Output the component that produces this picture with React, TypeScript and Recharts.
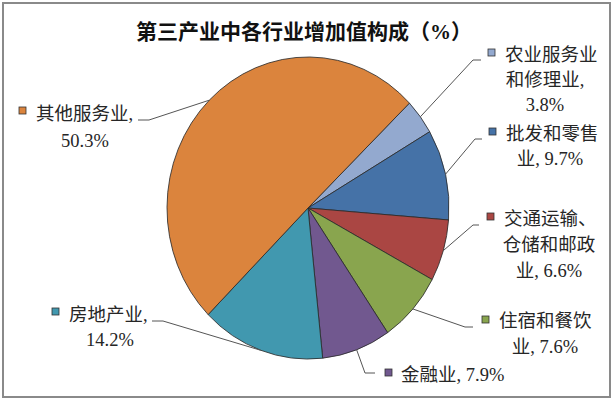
import React from 'react';
import { PieChart, Pie, Cell } from 'recharts';

// ---- data ----
const categories = ['农业服务业和修理业', '批发和零售业', '交通运输、仓储和邮政业', '住宿和餐饮业', '金融业', '房地产业', '其他服务业'];
const shares = [3.8, 9.7, 6.6, 7.6, 7.9, 14.2, 50.3];
const nameLines = [
  ['农业服务业', '和修理业'],
  ['批发和零售', '业'],
  ['交通运输、', '仓储和邮政', '业'],
  ['住宿和餐饮', '业'],
  ['金融业'],
  ['房地产业'],
  ['其他服务业'],
];
const valueOnOwnLine = [true, false, false, false, false, true, true];
const colors = ['#93A9CF', '#4572A7', '#AA4643', '#89A54E', '#71588F', '#4198AF', '#DB843D'];
const title = '第三产业中各行业增加值构成（%）';

const data = categories.map((name, i) => ({ name, value: shares[i] }));

// ---- layout ----
const W = 614;
const H = 402;
const CX = 308;
const CY = 208;
const R = 141;
const YSCALE = 1.071;
const FONT = "'Liberation Serif','Noto Sans CJK SC',serif";

type LabelLayout = { sq: [number, number]; x1: number; cx: number; ys: number[]; lead: [number, number][] };
const layouts: LabelLayout[] = [
  { sq: [488, 49], x1: 505, cx: 545, ys: [55, 80, 105], lead: [[481, 60], [473, 60]] },
  { sq: [489, 128], x1: 506, cx: 550, ys: [134, 159], lead: [[482, 139], [475, 139]] },
  { sq: [487, 213], x1: 504, cx: 549, ys: [219, 245, 271], lead: [[479, 225], [473, 225]] },
  { sq: [482, 316], x1: 499, cx: 545, ys: [321, 347], lead: [[473, 327], [465, 327]] },
  { sq: [385, 369], x1: 401, cx: 450, ys: [375], lead: [[375, 373], [365, 373]] },
  { sq: [52, 308], x1: 69, cx: 110, ys: [315, 340], lead: [[152, 321], [163, 321]] },
  { sq: [19, 107], x1: 36, cx: 85, ys: [114, 141], lead: [[138, 120], [149, 120]] },
];

function buildLines(i: number): string[] {
  const lines = nameLines[i].slice();
  const v = `${shares[i].toFixed(1)}%`;
  lines[lines.length - 1] = lines[lines.length - 1] + ',';
  if (valueOnOwnLine[i]) lines.push(v);
  else lines[lines.length - 1] = lines[lines.length - 1] + ' ' + v;
  return lines;
}

const RAD = Math.PI / 180;

function renderLabel(props: any) {
  const { cx, cy, midAngle, outerRadius, index } = props;
  const L = layouts[index];
  const ex = cx + outerRadius * Math.cos(-midAngle * RAD);
  const ey = cy + outerRadius * YSCALE * Math.sin(-midAngle * RAD);
  const lines = buildLines(index);
  const pts = [...L.lead, [ex, ey]].map((p) => p.join(',')).join(' ');
  return (
    <g key={`lbl-${index}`}>
      <polyline points={pts} fill="none" stroke="#555" strokeWidth={1} />
      <rect x={L.sq[0]} y={L.sq[1]} width={7} height={7} fill={colors[index]} stroke="#333" strokeWidth={0.8} />
      {lines.map((t, k) => (
        <text
          key={k}
          x={k === 0 ? L.x1 : L.cx}
          y={L.ys[k]}
          textAnchor={k === 0 ? 'start' : 'middle'}
          dominantBaseline="central"
          fontSize={18.5}
          fontFamily={FONT}
          fill="#262626"
        >
          {t}
        </text>
      ))}
    </g>
  );
}

export default function App() {
  return (
    <div style={{ position: 'absolute', left: 0, top: 0, width: W, height: H, background: '#fff' }}>
      <style>{`.recharts-sector{transform-origin:${CX}px ${CY}px;transform:scaleY(${YSCALE});}`}</style>
      <div
        style={{
          position: 'absolute',
          left: 2,
          top: 2,
          width: 609,
          height: 396,
          border: '2px solid #8a8a8a',
          boxSizing: 'border-box',
          pointerEvents: 'none',
        }}
      />
      <div
        style={{
          position: 'absolute',
          left: 0,
          top: 18,
          width: 608,
          textAlign: 'center',
          fontFamily: FONT,
          fontWeight: 700,
          fontSize: 21,
          lineHeight: '28px',
          color: '#111',
        }}
      >
        {title}
      </div>
      <PieChart width={W} height={H} margin={{ top: 0, right: 0, bottom: 0, left: 0 }}>
        <Pie
          data={data}
          dataKey="value"
          nameKey="name"
          cx={CX}
          cy={CY}
          outerRadius={R}
          startAngle={44}
          endAngle={-316}
          stroke="#2a2a2a"
          strokeWidth={0.8}
          label={renderLabel}
          labelLine={false}
          isAnimationActive={false}
        >
          {data.map((d, i) => (
            <Cell key={d.name} fill={colors[i]} />
          ))}
        </Pie>
      </PieChart>
    </div>
  );
}
